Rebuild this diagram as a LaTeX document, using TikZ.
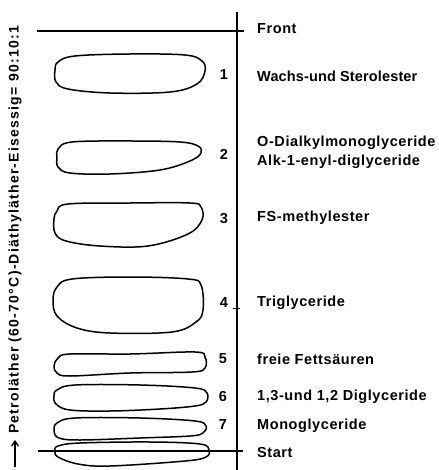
\documentclass[tikz,border=0pt]{standalone}
\usepackage{fontspec}
\setmainfont{Liberation Sans}
\newfontfamily\lblfont[LetterSpace=4]{Liberation Sans}
\newfontfamily\widefont[LetterSpace=1]{Liberation Sans}
\newfontfamily\sidefont[LetterSpace=9]{Liberation Sans}
\usetikzlibrary{arrows.meta}
\begin{document}
\begin{tikzpicture}[x=1pt,y=-1pt,
  ink/.style={line width=1.5pt, black},
  blob/.style={line width=1.5pt, black, line join=round},
  lbl/.style={anchor=west, inner sep=0pt, font=\lblfont\bfseries\fontsize{14.5}{17}\selectfont},
  num/.style={inner sep=0pt, font=\bfseries\fontsize{14.5}{17}\selectfont},
  side/.style={anchor=west, inner sep=0pt, rotate=90, font=\sidefont\bfseries\fontsize{14}{16}\selectfont}]
\useasboundingbox (0,0) rectangle (438,470);
% axis lines
\coordinate (axtop) at (237,12);
\coordinate (axbot) at (237,470);
\coordinate (frL) at (37,31);
\coordinate (frR) at (244,31);
\coordinate (stL) at (38,451);
\coordinate (stR) at (243,451);
\draw[ink] (axtop) -- (axbot);
\draw[ink] (frL) -- (frR);
\draw[ink] (stL) -- (stR);
\coordinate (tkL) at (233,308);
\coordinate (tkR) at (240,308);
\draw[line width=0.6pt] (tkL) -- (tkR);
% blobs
\draw[blob] plot[smooth cycle, tension=0.6] coordinates {(58,62) (75,56) (130,54) (185,55) (202,61) (205,71) (197,84) (170,92) (110,93) (68,89) (56,82) (55,70)};
\draw[blob] plot[smooth cycle, tension=0.6] coordinates {(58,149) (72,142) (130,141) (180,142) (198,146) (201,153) (190,161) (160,170) (110,174) (70,173) (58,167) (57,157)};
\draw[blob] plot[smooth cycle, tension=0.6] coordinates {(57,211) (68,204) (130,203) (190,203) (201,207) (202,220) (188,234) (148,246) (100,246) (66,241) (55,233) (54,219)};
\draw[blob] plot[smooth cycle, tension=0.6] coordinates {(57,287) (72,279) (130,277) (188,279) (201,285) (203,310) (196,322) (172,332) (110,333) (77,328) (57,316) (53,300)};
\draw[blob] plot[smooth cycle, tension=0.6] coordinates {(58,358) (70,354) (130,354) (195,352) (205,357) (205,368) (192,372) (130,373) (70,376) (57,373) (54,366)};
\draw[blob] plot[smooth cycle, tension=0.6] coordinates {(57,390) (75,385) (140,385) (195,388) (207,393) (206,402) (195,406) (160,409) (110,411) (70,410) (56,404) (54,396)};
\draw[blob] plot[smooth cycle, tension=0.6] coordinates {(57,423) (75,418) (140,418) (195,421) (206,426) (203,433) (190,436) (140,438) (80,440) (59,438) (54,431)};
\draw[blob] plot[smooth cycle, tension=0.6] coordinates {(58,446) (80,443) (150,442) (200,444) (209,450) (206,457) (185,461) (110,466) (78,464) (58,457) (55,451)};
% numbers
\node[num] (n1) at (224,75) {1};
\node[num] (n2) at (224,154) {2};
\node[num] (n3) at (224,219) {3};
\node[num] (n4) at (224,303) {4};
\node[num] (n5) at (223,359) {5};
\node[num] (n6) at (223,397) {6};
\node[num] (n7) at (223,425) {7};
% labels
\node[lbl] (front) at (257,29) {Front};
\node[lbl, font=\widefont\bfseries\fontsize{14.5}{17}\selectfont] (l1) at (257,76) {Wachs-und Sterolester};
\node[lbl] (l2a) at (257,143) {O-Dialkylmonoglyceride};
\node[lbl] (l2b) at (257,162) {Alk-1-enyl-diglyceride};
\node[lbl] (l3) at (257,218) {FS-methylester};
\node[lbl] (l4) at (257,303) {Triglyceride};
\node[lbl] (l5) at (257,359) {freie Fettsäuren};
\node[lbl] (l6) at (257,397) {1,3-und 1,2 Diglyceride};
\node[lbl] (l7) at (257,426) {Monoglyceride};
\node[lbl] (start) at (257,453) {Start};
% side text and arrow
\node[side] (solv) at (15,434) {Petroläther (60-70°C)-Diäthyläther-Eisessig= 90:10:1};
\coordinate (arA) at (15,467);
\coordinate (arB) at (15,440);
\draw[line width=1.3pt, -{Straight Barb[length=5pt,width=7pt]}] (arA) -- (arB);
\end{tikzpicture}
\end{document}
